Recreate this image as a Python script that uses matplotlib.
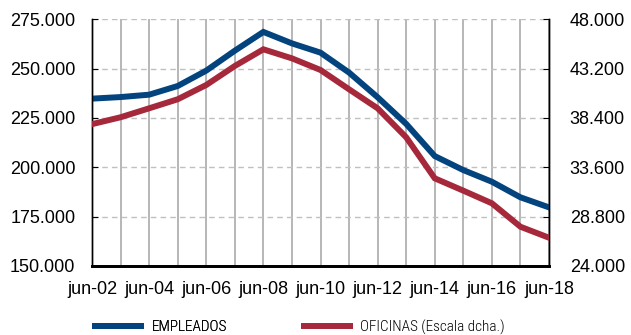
import matplotlib.pyplot as plt
from matplotlib.ticker import FuncFormatter, MultipleLocator
from matplotlib.lines import Line2D
from matplotlib import font_manager

years = list(range(2002, 2019))
tick_years = list(range(2002, 2019, 2))
tick_labels = [f"jun-{y % 100:02d}" for y in tick_years]

# Employees (left axis)
empleados = [234800, 235600, 236800, 241200, 249000, 259100, 268600, 262800,
             258100, 248000, 235500, 222000, 205700, 198600, 192700, 184800,
             179700]
# Branches (right axis)
oficinas = [37800, 38470, 39340, 40220, 41610, 43460, 45080, 44200,
            43070, 41190, 39340, 36520, 32530, 31330, 30100, 27820,
            26750]

BLUE = "#03447f"
RED = "#a6283b"

plt.rcParams["font.family"] = ["Liberation Sans", "DejaVu Sans"]


def _thousands(v, _pos):
    return f"{int(round(v)):,}".replace(",", ".")


fig = plt.figure(figsize=(6.31, 3.35), dpi=100)
ax = fig.add_axes([92 / 631, 69 / 335, 457 / 631, 246.7 / 335])
ax2 = ax.twinx()

ax.plot(years, empleados, color=BLUE, lw=4.3, solid_joinstyle="miter", zorder=3)
ax2.plot(years, oficinas, color=RED, lw=4.3, solid_joinstyle="miter", zorder=3)

ax.set_xlim(2002, 2018)
ax.set_ylim(150000, 275000)
ax2.set_ylim(24000, 48000)
ax.yaxis.set_major_locator(MultipleLocator(25000))
ax2.yaxis.set_major_locator(MultipleLocator(4800))
ax.yaxis.set_major_formatter(FuncFormatter(_thousands))
ax2.yaxis.set_major_formatter(FuncFormatter(_thousands))

ax.set_xticks(tick_years)
ax.set_xticklabels(tick_labels)
ax.set_xticks(years, minor=True)

ax.grid(axis="x", which="both", color="#aaaaaa", lw=1.2, ls="-")
ax.grid(axis="y", color="#c0c0c0", lw=1.0, ls=(0, (4, 3)))
ax.set_axisbelow(True)

for a in (ax, ax2):
    a.spines["top"].set_visible(False)
    a.spines["left"].set_linewidth(1.0)
    a.spines["right"].set_linewidth(1.0)
    a.spines["bottom"].set_linewidth(2.0)

ax.tick_params(axis="x", which="both", length=0, labelsize=13, pad=11)
ax.tick_params(axis="y", direction="in", length=4, labelsize=13, pad=12)
ax2.tick_params(axis="y", direction="in", length=4, labelsize=13, pad=15)

# condensed face for the legend
names = {f.name for f in font_manager.fontManager.ttflist}
narrow = [n for n in ("Roboto Condensed", "Barlow Condensed", "Archivo Narrow")
          if n in names] or ["DejaVu Sans"]
leg_prop = font_manager.FontProperties(family=[narrow[0], "DejaVu Sans"],
                                       weight="light", size=11)

handles = [Line2D([], [], color=BLUE, lw=4.3, solid_capstyle="butt"),
           Line2D([], [], color=RED, lw=4.3, solid_capstyle="butt")]
leg1 = fig.legend(handles[:1], ["EMPLEADOS"], loc="center left",
                  bbox_to_anchor=(78 / 631, 8 / 335), frameon=False,
                  handlelength=3.4, handletextpad=0.5, prop=leg_prop)
fig.legend(handles[1:], ["OFICINAS (Escala dcha.)"], loc="center left",
           bbox_to_anchor=(287 / 631, 8 / 335), frameon=False,
           handlelength=3.4, handletextpad=0.5, prop=leg_prop)
fig.add_artist(leg1)

fig.savefig("out.png", dpi=100)
